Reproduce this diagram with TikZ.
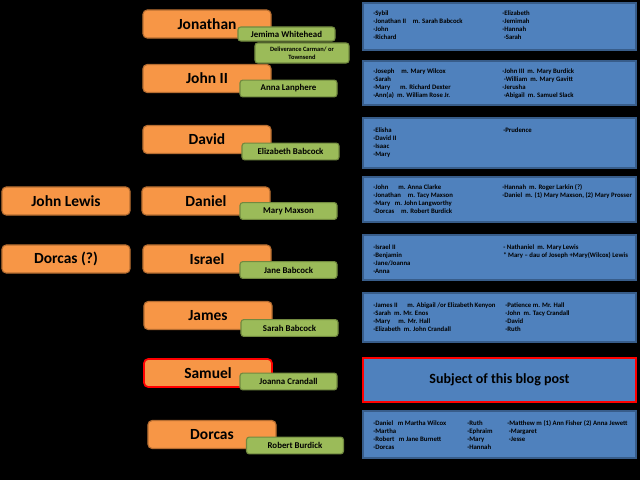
\documentclass[tikz,border=0pt]{standalone}
\usepackage{fontspec}
\setmainfont{Carlito}
\usepackage{xcolor}
\usepackage{tikz}
\usetikzlibrary{positioning}
\definecolor{orangefill}{HTML}{F79646}
\definecolor{orangeline}{HTML}{B66D31}
\definecolor{greenfill}{HTML}{9BBB59}
\definecolor{greenline}{HTML}{71893F}
\definecolor{bluefill}{HTML}{4F81BD}
\definecolor{blueline}{HTML}{385D8A}

\begin{document}
\begin{tikzpicture}[
    x=0.025cm, y=-0.025cm,
    person/.style={rectangle, draw=orangeline, fill=orangefill, line width=0.8pt, rounded corners=3pt, minimum width=3.2cm, minimum height=0.7cm, inner sep=0pt, font=\fontsize{11}{13}\selectfont\bfseries},
    spouse/.style={rectangle, draw=greenline, fill=greenfill, line width=0.8pt, rounded corners=2pt, minimum width=2.425cm, minimum height=0.42cm, inner sep=0pt, font=\fontsize{6.3}{7}\selectfont\bfseries},
    family/.style={rectangle, draw=blueline, fill=bluefill, line width=0.9pt, minimum width=6.825cm, inner sep=0pt},
    kids/.style={anchor=north west, inner sep=0pt, align=left, font=\fontsize{4.8}{5.9}\selectfont\bfseries}]
    \fill[black] (0,0) rectangle (640,480);

    % children of the line
    \node[person] (jonathan) at (207,24) {Jonathan};
    \node[person] (john2) at (207,78.5) {John II};
    \node[person] (david) at (207,139.5) {David};
    \node[person] (daniel) at (206,201) {Daniel};
    \node[person] (israel) at (207,259) {Israel};
    \node[person] (james) at (208,315.5) {James};
    \node[person, draw=red, line width=1.2pt] (samuel) at (208,373) {Samuel};
    \node[person] (dorcas) at (212,434.5) {Dorcas};
    \node[person] (johnlewis) at (66,201) {John Lewis};
    \node[person] (dorcasq) at (66,259) {Dorcas (?)};

    % spouses
    \node[spouse, minimum height=0.35cm] (jemima) at (286.5,34) {Jemima Whitehead};
    \node[spouse, minimum width=2.35cm, minimum height=0.5cm, align=center, font=\fontsize{4.6}{5.4}\selectfont\bfseries] (deliverance) at (302,53) {Deliverance Carman/ or\\Townsend};
    \node[spouse] (anna) at (288.5,88.5) {Anna Lanphere};
    \node[spouse] (elizabeth) at (290.5,151.5) {Elizabeth Babcock};
    \node[spouse] (marymaxson) at (288.5,211) {Mary Maxson};
    \node[spouse] (jane) at (288.5,270) {Jane Babcock};
    \node[spouse] (sarah) at (289.5,328) {Sarah Babcock};
    \node[spouse] (joanna) at (288.5,381.5) {Joanna Crandall};
    \node[spouse] (robert) at (295,445.5) {Robert Burdick};

    % families
    \node[family, minimum height=1.175cm] (fam1) at (499.5,26.5) {};
    \node[kids] (fam1a) at (373,10) {-Sybil\\-Jonathan II\quad m. Sarah Babcock\\-John\\-Richard};
    \node[kids] (fam1b) at (502,10) {-Elizabeth\\-Jemimah\\-Hannah\\\ -Sarah};

    \node[family, minimum height=1.1cm] (fam2) at (499.5,83) {};
    \node[kids] (fam2a) at (373,68) {-Joseph\quad m. Mary Wilcox\\-Sarah\\-Mary\quad\ \ m. Richard Dexter\\-Ann(a)\ \ m. William Rose Jr.};
    \node[kids] (fam2b) at (502,68) {-John III\ \ m. Mary Burdick\\\ -William\ \ m. Mary Gavitt\\-Jerusha\\\ -Abigail\ \ m. Samuel Slack};

    \node[family, minimum height=1.25cm] (fam3) at (499.5,143) {};
    \node[kids] (fam3a) at (373,127) {-Elisha\\-David II\\-Isaac\\-Mary};
    \node[kids] (fam3b) at (503,127) {-Prudence};

    \node[family, minimum height=1.125cm] (fam4) at (499.5,199.5) {};
    \node[kids] (fam4a) at (373,184) {-John\quad\ \ m. Anna Clarke\\-Jonathan\quad m. Tacy Maxson\\-Mary\ \ \ m. John Langworthy\\-Dorcas\quad m. Robert Burdick};
    \node[kids] (fam4b) at (502,184) {-Hannah\ \ m. Roger Larkin (?)\\-Daniel\ \ m. (1) Mary Maxson, (2) Mary Prosser};

    \node[family, minimum height=1.125cm] (fam5) at (499.5,257.5) {};
    \node[kids] (fam5a) at (373,244) {-Israel II\\-Benjamin\\-Jane/Joanna\\-Anna};
    \node[kids] (fam5b) at (503,244) {- Nathaniel\ \ m. Mary Lewis\\* Mary -- dau of Joseph +Mary(Wilcox) Lewis};

    \node[family, minimum height=1.225cm] (fam6) at (499.5,317.5) {};
    \node[kids] (fam6a) at (373,302) {-James II\quad\ \ m. Abigail /or Elizabeth Kenyon\\-Sarah\ \ m. Mr. Enos\\-Mary\quad\ m. Mr. Hall\\-Elizabeth\ \ m. John Crandall};
    \node[kids] (fam6b) at (505,302) {-Patience m. Mr. Hall\\-John\ \ m. Tacy Crandall\\-David\\-Ruth};

    \node[family, draw=red, line width=1.2pt, minimum height=1.1cm, font=\fontsize{10}{12}\selectfont\bfseries] (subject) at (499.5,380) {Subject of this blog post};

    \node[family, minimum height=1.175cm] (fam7) at (499.5,434.5) {};
    \node[kids] (fam7a) at (373,420) {-Daniel\ \ \ m Martha Wilcox\\-Martha\\-Robert\ \ \ m Jane Burnett\\-Dorcas};
    \node[kids] (fam7b) at (467,420) {-Ruth\\-Ephraim\\-Mary\\-Hannah};
    \node[kids] (fam7c) at (507,420) {-Matthew m (1) Ann Fisher (2) Anna Jewett\\\ -Margaret\\\ -Jesse};
\end{tikzpicture}
\end{document}
